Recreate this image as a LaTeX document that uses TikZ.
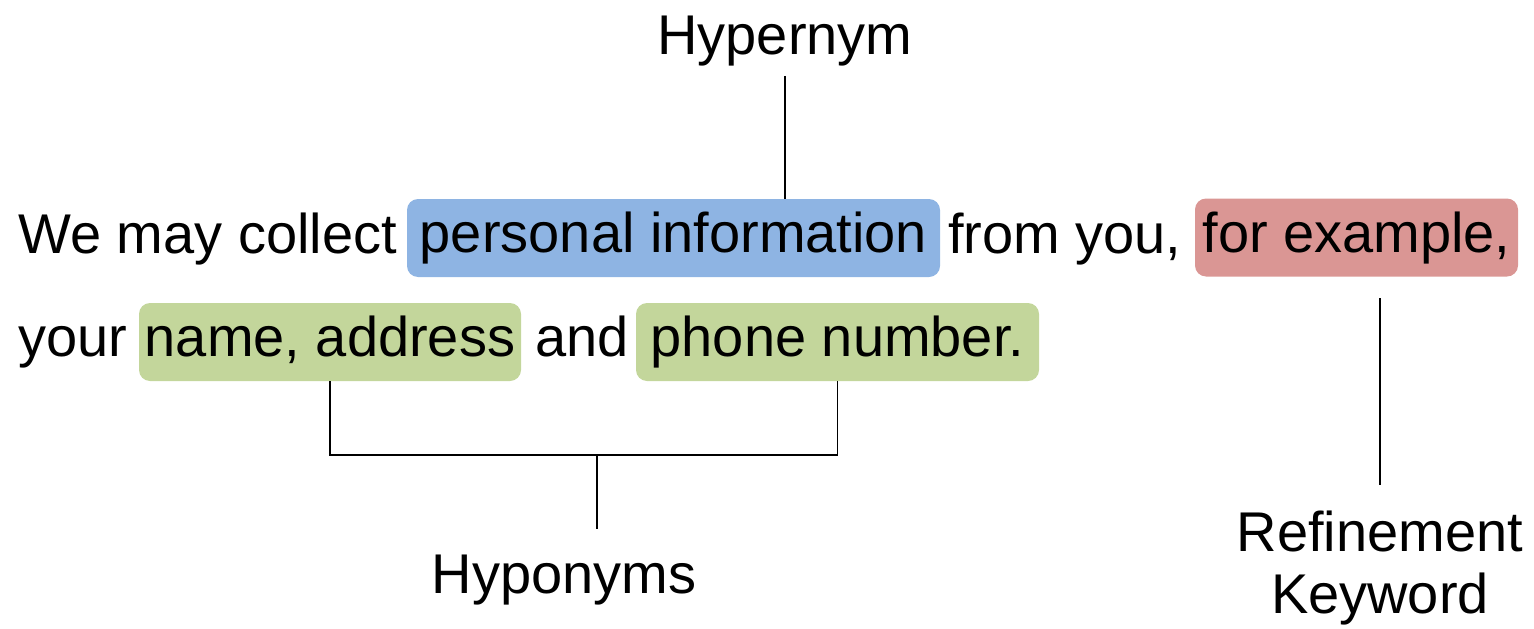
\documentclass[tikz,border=0pt]{standalone}
\usepackage{fontspec}
\setmainfont{Liberation Sans}
\usepackage{xcolor}
\usepackage{tikz}
\usetikzlibrary{positioning}
\definecolor{hyperblue}{RGB}{142,180,227}
\definecolor{refred}{RGB}{218,150,148}
\definecolor{hypogreen}{RGB}{195,214,155}
\tikzset{
  word/.style={inner sep=0pt, anchor=base west},
  hilite/.style={rectangle, rounded corners=11pt, inner sep=0pt, text height=41pt, text depth=12pt,
               minimum height=78pt},
  tag/.style={inner sep=0pt, anchor=base, align=center},
  link/.style={line width=1.5pt, black},
}

\begin{document}
\begin{tikzpicture}[x=1pt, y=-1pt, font=\fontsize{56}{62}\selectfont]
\useasboundingbox (0,0) rectangle (1534,629);
% first line of the sentence
\node[word] (we) at (18,253) {We may collect};
\node[hilite, fill=hyperblue, minimum width=533pt] (hyper) at (673.5,238) {personal information};
\node[word] (fromyou) at (948,253) {from you,};
\node[hilite, fill=refred, minimum width=323pt] (refkw) at (1356.5,237.5) {for example,};
% second line
\node[word] (your) at (18,356) {your};
\node[hilite, fill=hypogreen, minimum width=382pt] (hypoA) at (330,342) {name, address};
\node[word] (andw) at (535,356) {and};
\node[hilite, fill=hypogreen, minimum width=403pt] (hypoB) at (837.5,342) {phone number.};
% labels (base of a two-line tag is its last line)
\node[tag] (lblHyper) at (785,54) {Hypernym};
\node[tag] (lblHypo) at (564,593) {Hyponyms};
\node[tag] (lblRef) at (1380,613) {Refinement\\Keyword};
% connectors
\draw[link] ([yshift=-10pt]lblHyper.south) -- (lblHyper.south |- hyper.north);
\coordinate (fork) at (597,455);
\coordinate (forkEnd) at (597,529);
\draw[link] (hypoA.south) |- (fork) -| (hypoB.south);
\draw[link] (fork) -- (forkEnd);
\coordinate (refTop) at (1380,298);
\draw[link] (refTop) -- ([yshift=25pt]lblRef.north);
\end{tikzpicture}
\end{document}
